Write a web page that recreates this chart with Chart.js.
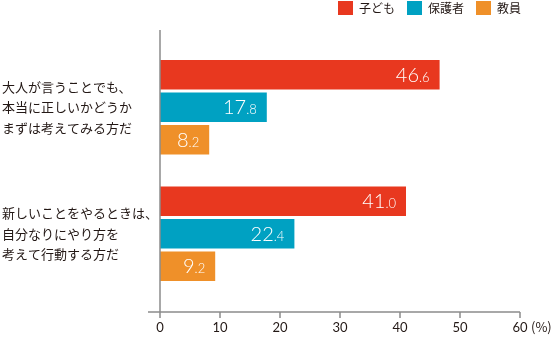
<!DOCTYPE html>
<html lang="ja">
<head>
<meta charset="utf-8">
<script src="https://cdn.jsdelivr.net/npm/chart.js@4"></script>
<style>
  html, body { margin: 0; padding: 0; background: #fff; }
  #wrap { width: 556px; height: 342px; }
</style>
</head>
<body>
<div id="wrap"><canvas id="myChart"></canvas></div>
<script>
'use strict';

// data

let categories = [
  ['大人が言うことでも、', '本当に正しいかどうか', 'まずは考えてみる方だ'],
  ['新しいことをやるときは、', '自分なりにやり方を', '考えて行動する方だ']
];
let seriesNames = ['子ども', '保護者', '教員'];
let childValues = [46.6, 41.0];
let parentValues = [17.8, 22.4];
let teacherValues = [8.2, 9.2];
let xTickValues = [0, 10, 20, 30, 40, 50, 60];
let unitLabel = '(%)';

let colors = ['#E8381F', '#00A1C2', '#EF9029'];
let axisColor = '#8c8c8c';
let textColor = '#231815';

// plugins

// legend drawn by hand so it can sit at the very top, right aligned
let topLegend = {
  id: 'topLegend',
  afterDraw(chart) {
    let ctx = chart.ctx;
    ctx.save();
    ctx.font = '12px "Noto Sans CJK JP", sans-serif';
    ctx.textBaseline = 'middle';
    ctx.textAlign = 'left';
    let right = 521;
    let items = [];
    for (let i = seriesNames.length - 1; i >= 0; i--) {
      let w = ctx.measureText(seriesNames[i]).width;
      let textX = right - w;
      let boxX = textX - 6 - 15;
      items.unshift({ name: seriesNames[i], color: colors[i], boxX: boxX, textX: textX });
      right = boxX - 12;
    }
    items.forEach(item => {
      ctx.fillStyle = item.color;
      ctx.fillRect(item.boxX, 1, 15, 14);
      ctx.fillStyle = textColor;
      ctx.fillText(item.name, item.textX, 8.5);
    });
    ctx.restore();
  }
};

let axisLines = {
  id: 'axisLines',
  afterDraw(chart) {
    let ctx = chart.ctx;
    let area = chart.chartArea;
    let x = chart.scales.x;
    let x0 = x.getPixelForValue(0);
    let axisY = area.bottom + 15;
    ctx.save();
    ctx.strokeStyle = axisColor;
    ctx.lineWidth = 1.5;
    ctx.beginPath();
    ctx.moveTo(x0, area.top - 14);
    ctx.lineTo(x0, axisY + 6);
    ctx.moveTo(x0 - 12, axisY);
    ctx.lineTo(x.getPixelForValue(60), axisY);
    for (let i = 1; i < xTickValues.length; i++) {
      let px = x.getPixelForValue(xTickValues[i]);
      ctx.moveTo(px, axisY);
      ctx.lineTo(px, axisY + 6);
    }
    ctx.stroke();

    // unit after the last tick
    ctx.fillStyle = textColor;
    ctx.font = '13px "Noto Sans CJK JP", sans-serif';
    ctx.textBaseline = 'middle';
    ctx.textAlign = 'left';
    ctx.fillText(unitLabel, x.getPixelForValue(60) + 11, axisY + 15);
    ctx.restore();
  }
};

let valueLabels = {
  id: 'valueLabels',
  afterDatasetsDraw(chart) {
    let ctx = chart.ctx;
    let bigFont = '300 20px Lato, sans-serif';
    let smallFont = '300 13px Lato, sans-serif';
    ctx.save();
    ctx.fillStyle = '#ffffff';
    ctx.textBaseline = 'alphabetic';
    ctx.textAlign = 'left';
    chart.data.datasets.forEach((ds, i) => {
      let meta = chart.getDatasetMeta(i);
      meta.data.forEach((bar, j) => {
        let parts = ds.data[j].toFixed(1).split('.');
        let big = parts[0];
        let small = '.' + parts[1];
        ctx.font = bigFont;
        let bigW = ctx.measureText(big).width;
        ctx.font = smallFont;
        let smallW = ctx.measureText(small).width;
        let right = bar.x - 10;
        let baseY = bar.y + 7;
        ctx.font = bigFont;
        ctx.fillText(big, right - smallW - bigW, baseY);
        ctx.font = smallFont;
        ctx.fillText(small, right - smallW, baseY);
      });
    });
    ctx.restore();
  }
};

// chart

let ctx = document.getElementById('myChart');
let config = {
  type: 'bar',
  data: {
    labels: categories,
    datasets: [
      { label: seriesNames[0], data: childValues, backgroundColor: colors[0] },
      { label: seriesNames[1], data: parentValues, backgroundColor: colors[1] },
      { label: seriesNames[2], data: teacherValues, backgroundColor: colors[2] }
    ]
  },
  options: {
    indexAxis: 'y',
    responsive: true,
    maintainAspectRatio: false,
    animation: false,
    categoryPercentage: 0.77,
    barPercentage: 0.91,
    layout: {
      padding: { top: 44, right: 36, bottom: 0, left: 2 }
    },
    plugins: {
      legend: { display: false },
      tooltip: { enabled: false }
    },
    scales: {
      x: {
        min: 0,
        max: 60,
        afterBuildTicks: (scale) => {
          scale.ticks = xTickValues.map(v => ({ value: v }));
        },
        afterFit: (scale) => {
          scale.height = 45;
        },
        grid: { display: false, drawTicks: false },
        border: { display: false },
        ticks: {
          padding: 23,
          color: textColor,
          font: { family: 'Lato, sans-serif', size: 13 }
        }
      },
      y: {
        afterFit: (scale) => {
          scale.width = 158;
        },
        grid: { display: false, drawTicks: false },
        border: { display: false },
        ticks: {
          crossAlign: 'far',
          color: textColor,
          font: { family: '"Noto Sans CJK JP", sans-serif', size: 13, lineHeight: 1.58 }
        }
      }
    }
  },
  plugins: [axisLines, valueLabels, topLegend]
};
new Chart(ctx, config);
</script>
</body>
</html>
